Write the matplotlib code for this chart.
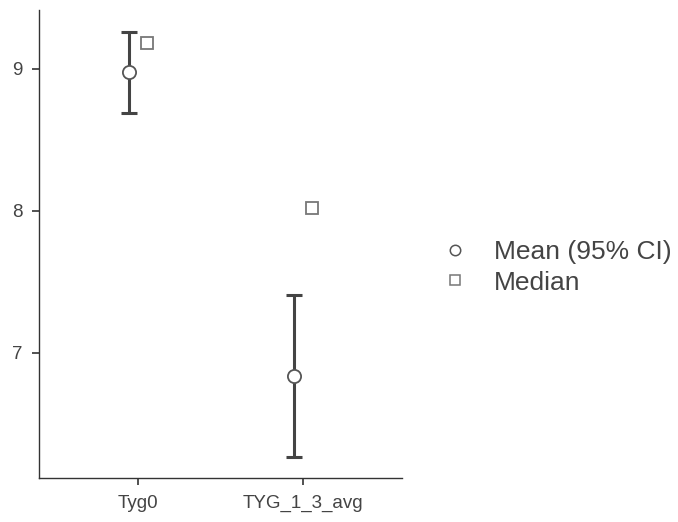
import numpy as np
import matplotlib.pyplot as plt
from matplotlib.lines import Line2D

# Data
categories = ['Tyg0', 'TYG_1_3_avg']
means = [8.98, 6.84]
ci_low = [8.69, 6.27]
ci_high = [9.26, 7.41]
medians = [9.18, 8.02]

plt.rcParams['font.family'] = ['Liberation Sans', 'DejaVu Sans']

fig = plt.figure(figsize=(6.78, 5.22), dpi=100)
ax = fig.add_axes([0.0575, 0.0843, 0.5355, 0.8967])

x = np.arange(len(categories))
dodge = 0.055
means = np.array(means)
yerr = [means - np.array(ci_low), np.array(ci_high) - means]

# Mean with 95% CI
ax.errorbar(x - dodge, means, yerr=yerr, fmt='none', ecolor='#444444',
            elinewidth=2.2, capsize=6, capthick=2.2, zorder=2)
ax.plot(x - dodge, means, linestyle='none', marker='o', markersize=9.5,
        markerfacecolor='white', markeredgecolor='#555555', markeredgewidth=1.3, zorder=3)

# Median
ax.plot(x + dodge, medians, linestyle='none', marker='s', markersize=8,
        markerfacecolor='white', markeredgecolor='#777777', markeredgewidth=1.3, zorder=3)

ax.set_xlim(-0.6, 1.6)
ax.set_ylim(6.12, 9.415)
ax.set_xticks(x)
ax.set_xticklabels(categories)
ax.set_yticks([7, 8, 9])

for side in ['top', 'right']:
    ax.spines[side].set_visible(False)
for side in ['left', 'bottom']:
    ax.spines[side].set_color('#333333')
    ax.spines[side].set_linewidth(1.0)
ax.tick_params(colors='#333333', labelcolor='#444444', labelsize=13.5, length=5, width=1.2, pad=7)

# Legend
handles = [
    Line2D([], [], linestyle='none', marker='o', markersize=7.5, markerfacecolor='white',
           markeredgecolor='#555555', markeredgewidth=1.1),
    Line2D([], [], linestyle='none', marker='s', markersize=6.5, markerfacecolor='white',
           markeredgecolor='#777777', markeredgewidth=1.1),
]
fig.legend(handles, ['Mean (95% CI)', 'Median'], loc='center left',
           bbox_to_anchor=(0.651, 0.488), frameon=False, fontsize=19,
           labelcolor='#444444', handletextpad=1.0, handlelength=1.0,
           labelspacing=0.25, borderpad=0, borderaxespad=0)

fig.savefig('out.png', dpi=100)
